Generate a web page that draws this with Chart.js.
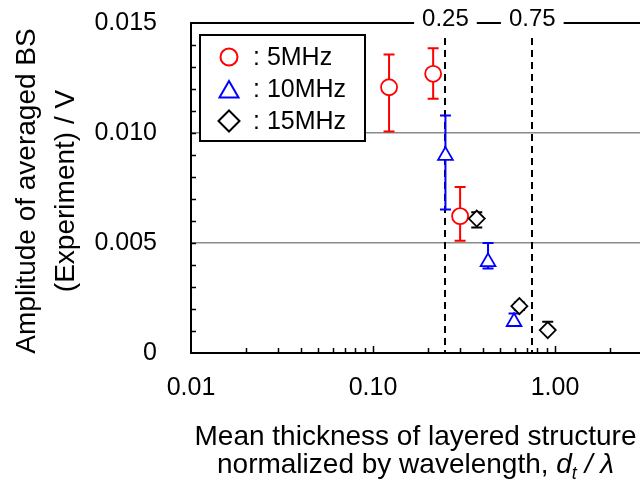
<!DOCTYPE html>
<html>
<head>
<meta charset="utf-8">
<script src="https://cdn.jsdelivr.net/npm/chart.js@4/dist/chart.umd.min.js"></script>
<style>
  html, body { margin: 0; padding: 0; background: #fff; overflow: hidden; }
  #wrap { width: 640px; height: 484px; }
</style>
</head>
<body>
<div id="wrap"><canvas id="chart" width="640" height="484"></canvas></div>
<script>
// Averaged backscatter amplitude vs. normalized layer thickness
const series = ['5MHz', '10MHz', '15MHz'];

const x5   = [0.1225, 0.214, 0.301];
const y5   = [0.01208, 0.01269, 0.00622];
const lo5  = [0.01007, 0.01156, 0.00510];
const hi5  = [0.01357, 0.01385, 0.00755];

const x10  = [0.250, 0.4285, 0.5955];
const y10  = [0.00897, 0.00414, 0.00142];
const lo10 = [0.00652, 0.00384, 0.00128];
const hi10 = [0.01080, 0.00500, 0.00180];

const x15  = [0.3715, 0.637, 0.912];
const y15  = [0.00611, 0.00213, 0.00104];
const lo15 = [0.00570, 0.00195, 0.00096];
const hi15 = [0.00640, 0.00230, 0.00142];

const xTickValues = [0.01, 0.1, 1];
const yTickValues = [0, 0.005, 0.010, 0.015];
const guideLines  = [0.25, 0.75];

const FONT = '"Liberation Sans", Arial, sans-serif';

function points(xs, ys) { return xs.map((x, i) => ({ x: x, y: ys[i] })); }

function makeSet(label, xs, ys, lo, hi, color, style, radius, order) {
  return {
    label: label,
    data: points(xs, ys),
    errLow: lo,
    errHigh: hi,
    showLine: false,
    pointStyle: style,
    pointRadius: radius,
    pointHoverRadius: radius,
    pointBorderColor: color,
    pointBackgroundColor: '#ffffff',
    pointBorderWidth: 1.8,
    borderColor: color,
    backgroundColor: '#ffffff',
    order: order
  };
}

// vertical error bars with caps, drawn underneath the hollow markers
const errorBars = {
  id: 'errorBars',
  beforeDatasetsDraw(chart) {
    const { ctx, scales: { x, y } } = chart;
    chart.data.datasets.forEach(ds => {
      ctx.save();
      ctx.strokeStyle = ds.pointBorderColor;
      ctx.lineWidth = 2;
      ds.data.forEach((p, i) => {
        const px = x.getPixelForValue(p.x);
        const yh = y.getPixelForValue(ds.errHigh[i]);
        const yl = y.getPixelForValue(ds.errLow[i]);
        ctx.beginPath();
        ctx.moveTo(px, yh); ctx.lineTo(px, yl);
        ctx.moveTo(px - 5.5, yh); ctx.lineTo(px + 5.5, yh);
        ctx.moveTo(px - 5.5, yl); ctx.lineTo(px + 5.5, yl);
        ctx.stroke();
      });
      ctx.restore();
    });
  }
};

// axes frame, inward minor ticks, top guide labels and dashed guide lines
const frame = {
  id: 'frame',
  beforeDatasetsDraw(chart) {
    const { ctx, chartArea: a, scales: { x, y } } = chart;
    ctx.save();
    ctx.strokeStyle = '#000';
    ctx.lineWidth = 2;

    // left and bottom axis lines
    ctx.beginPath();
    ctx.moveTo(a.left, a.top - 1);
    ctx.lineTo(a.left, a.bottom);
    ctx.lineTo(a.right, a.bottom);
    ctx.stroke();

    // minor ticks on the log axis (pointing into the plot)
    ctx.lineWidth = 1.5;
    ctx.beginPath();
    for (let d = 0.01; d < x.max; d *= 10) {
      for (let k = 1; k <= 9; k++) {
        const v = d * k;
        if (v <= x.min || v > x.max) continue;
        const px = Math.round(x.getPixelForValue(v)) + 0.5;
        const len = k === 1 ? 7 : 5;
        ctx.moveTo(px, a.bottom);
        ctx.lineTo(px, a.bottom - len);
      }
    }
    // minor ticks on the amplitude axis every 0.001
    for (let k = 1; k < 15; k++) {
      const py = Math.round(y.getPixelForValue(k * 0.001)) + 0.5;
      ctx.moveTo(a.left, py);
      ctx.lineTo(a.left + 5, py);
    }
    ctx.stroke();

    // top border broken by the guide labels
    ctx.font = '24px ' + FONT;
    ctx.textAlign = 'center';
    ctx.textBaseline = 'middle';
    const gaps = guideLines.map(v => {
      const cx = x.getPixelForValue(v);
      const w = ctx.measureText(String(v)).width / 2 + 8;
      return [cx - w, cx + w];
    });
    ctx.lineWidth = 2;
    ctx.beginPath();
    let start = a.left;
    gaps.forEach(g => {
      ctx.moveTo(start, a.top);
      ctx.lineTo(g[0], a.top);
      start = g[1];
    });
    ctx.moveTo(start, a.top);
    ctx.lineTo(a.right, a.top);
    ctx.stroke();

    ctx.fillStyle = '#000';
    guideLines.forEach(v => {
      ctx.fillText(String(v), x.getPixelForValue(v), a.top - 4);
    });

    // dashed guide lines
    ctx.setLineDash([7, 5]);
    ctx.lineWidth = 2;
    ctx.beginPath();
    guideLines.forEach(v => {
      const px = Math.round(x.getPixelForValue(v));
      ctx.moveTo(px, a.top + 15);
      ctx.lineTo(px, a.bottom);
    });
    ctx.stroke();
    ctx.restore();
  }
};

// framed legend inside the plot, axis titles
const annotations = {
  id: 'annotations',
  afterDraw(chart) {
    const { ctx, chartArea: a } = chart;
    ctx.save();

    // legend box
    const bx = a.left + 9, by = a.top + 12, bw = 165, bh = 106;
    ctx.fillStyle = '#fff';
    ctx.fillRect(bx, by, bw, bh);
    ctx.strokeStyle = '#000';
    ctx.lineWidth = 2;
    ctx.strokeRect(bx, by, bw, bh);

    const legendRadius = [8.5, 11, 10.5];
    chart.data.datasets.forEach((ds, i) => {
      const cy = by + 22 + i * 32;
      ctx.strokeStyle = ds.pointBorderColor;
      ctx.fillStyle = '#fff';
      Chart.helpers.drawPoint(ctx, {
        pointStyle: ds.pointStyle, radius: legendRadius[i], borderWidth: 1.8, rotation: 0
      }, bx + 29, cy + (ds.pointStyle === 'triangle' ? 3 : 0));
      ctx.fillStyle = '#000';
      ctx.font = '25px ' + FONT;
      ctx.textAlign = 'left';
      ctx.textBaseline = 'middle';
      ctx.fillText(': ' + ds.label, bx + 53, cy + 1);
    });

    // y title (two lines, rotated)
    ctx.fillStyle = '#000';
    ctx.font = '28px ' + FONT;
    ctx.textAlign = 'center';
    ctx.textBaseline = 'alphabetic';
    const ym = (a.top + a.bottom) / 2 + 3;
    ctx.save();
    ctx.translate(35, ym);
    ctx.rotate(-Math.PI / 2);
    ctx.fillText('Amplitude of averaged BS', 0, 0);
    ctx.restore();
    ctx.save();
    ctx.translate(74, ym);
    ctx.rotate(-Math.PI / 2);
    ctx.fillText('(Experiment) / V', 0, 0);
    ctx.restore();

    // x title, second line mixes upright and italic runs
    const xm = (a.left + a.right) / 2;
    ctx.fillText('Mean thickness of layered structure', xm, 445);

    const runs = [
      { t: 'normalized by wavelength, ', f: '28px ' + FONT, dy: 0 },
      { t: 'd', f: 'italic 28px ' + FONT, dy: 0 },
      { t: 't', f: 'italic 18px ' + FONT, dy: 6 },
      { t: ' / ', f: 'italic 28px ' + FONT, dy: 0 },
      { t: 'λ', f: 'italic 28px ' + FONT, dy: 0 }
    ];
    let total = 0;
    runs.forEach(r => { ctx.font = r.f; r.w = ctx.measureText(r.t).width; total += r.w; });
    let cx = xm - total / 2;
    ctx.textAlign = 'left';
    runs.forEach(r => {
      ctx.font = r.f;
      ctx.fillText(r.t, cx, 473 + r.dy);
      cx += r.w;
    });
    ctx.restore();
  }
};

new Chart(document.getElementById('chart'), {
  type: 'scatter',
  data: {
    datasets: [
      makeSet(series[0], x5,  y5,  lo5,  hi5,  '#ff0000', 'circle',   8, 2),
      makeSet(series[1], x10, y10, lo10, hi10, '#0000ff', 'triangle', 8.5, 1),
      makeSet(series[2], x15, y15, lo15, hi15, '#000000', 'rectRot',  8, 0)
    ]
  },
  options: {
    responsive: false,
    animation: false,
    events: [],
    layout: { autoPadding: false, padding: { top: 23, right: 0, bottom: 0, left: 0 } },
    plugins: { legend: { display: false }, tooltip: { enabled: false } },
    scales: {
      x: {
        type: 'logarithmic',
        min: 0.01,
        max: 2.93,
        border: { display: false },
        grid: { display: false, drawTicks: false },
        afterBuildTicks: s => { s.ticks = xTickValues.map(v => ({ value: v })); },
        afterFit: s => { s.height = 131; s.paddingLeft = 0; s.paddingRight = 0; s.paddingTop = 0; s.paddingBottom = 0; },
        ticks: {
          autoSkip: false,
          maxRotation: 0,
          padding: 20,
          color: '#000',
          font: { family: FONT, size: 25 },
          callback: v => Number(v).toFixed(2)
        }
      },
      y: {
        min: 0,
        max: 0.015,
        border: { display: false },
        grid: {
          drawTicks: false,
          lineWidth: 1.6,
          color: c => (c.tick && c.tick.value > 0 && c.tick.value < 0.015) ? '#8a8a8a' : 'rgba(0,0,0,0)'
        },
        afterBuildTicks: s => { s.ticks = yTickValues.map(v => ({ value: v })); },
        afterFit: s => { s.width = 191; s.paddingLeft = 0; s.paddingRight = 0; s.paddingTop = 0; s.paddingBottom = 0; },
        ticks: {
          padding: 34,
          color: '#000',
          font: { family: FONT, size: 25 },
          callback: v => (v === 0 ? '0' : Number(v).toFixed(3))
        }
      }
    }
  },
  plugins: [frame, errorBars, annotations]
});
</script>
</body>
</html>
